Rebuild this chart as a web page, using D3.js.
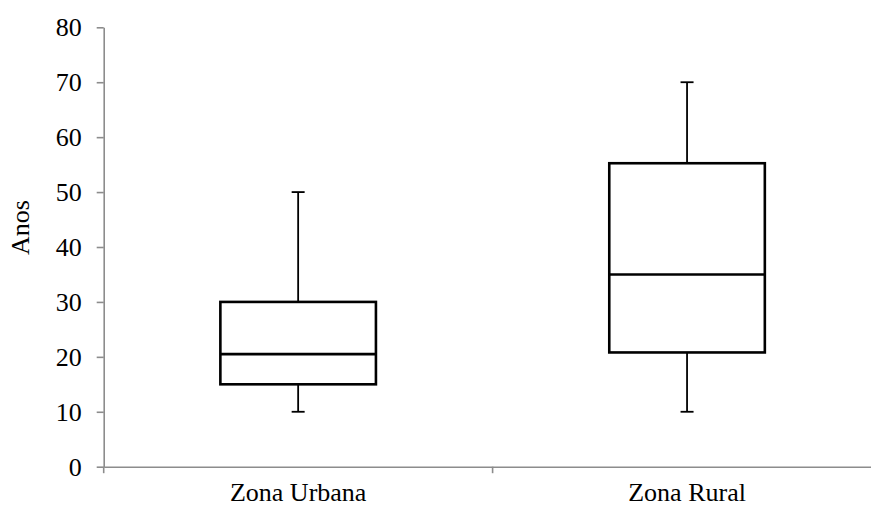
<!DOCTYPE html>
<html>
<head>
<meta charset="utf-8">
<script src="https://cdn.jsdelivr.net/npm/d3@7"></script>
<style>
  html, body { margin: 0; padding: 0; background: #fff; }
  svg { display: block; }
  text { font-family: "Liberation Serif", "Times New Roman", serif; fill: #000; }
</style>
</head>
<body>
<svg id="chart" width="871" height="507"></svg>
<script>
// Data
const categories = ["Zona Urbana", "Zona Rural"];
const whiskerLow = [10, 10];
const q1 = [15, 20.8];
const median = [20.5, 35];
const q3 = [30, 55.25];
const whiskerHigh = [50, 70];
const yTicks = [0, 10, 20, 30, 40, 50, 60, 70, 80];
const yLabel = "Anos";

const svg = d3.select("#chart");
const mLeft = 103.7, mRight = 881.5, mTop = 27.3, mBottom = 466.7;

const x = d3.scaleBand().domain(categories).range([mLeft, mRight]).padding(0);
const y = d3.scaleLinear().domain([0, 80]).range([mBottom, mTop]);
const axisColor = "#8c8c8c";
const fontSize = 26;
const serif = '"Liberation Serif", "Times New Roman", serif';

// Y axis
const yAxis = svg.append("g")
  .attr("transform", `translate(${mLeft},0)`)
  .call(d3.axisLeft(y).tickValues(yTicks).tickSize(7).tickPadding(15).tickSizeOuter(0));
yAxis.attr("font-family", serif).attr("font-size", fontSize);
yAxis.select(".domain").attr("stroke", axisColor).attr("stroke-width", 1.6);
yAxis.selectAll(".tick line").attr("stroke", axisColor).attr("stroke-width", 1.6);
yAxis.selectAll(".tick text")
  .style("font-family", serif)
  .style("font-size", fontSize + "px").attr("fill", "#000");

// X axis
const xAxis = svg.append("g")
  .attr("transform", `translate(0,${mBottom})`)
  .call(d3.axisBottom(x).tickSize(0).tickSizeOuter(0));
xAxis.attr("font-family", serif).attr("font-size", fontSize);
xAxis.select(".domain").attr("stroke", axisColor).attr("stroke-width", 1.6);
xAxis.selectAll(".tick text")
  .attr("y", 34.5).attr("dy", 0)
  .style("font-family", serif)
  .style("font-size", fontSize + "px").attr("fill", "#000");
// category boundary ticks
const bounds = categories.map(c => x(c)).concat([x(categories[categories.length - 1]) + x.bandwidth()]);
xAxis.selectAll(".bound").data(bounds).enter().append("line")
  .attr("x1", d => d).attr("x2", d => d)
  .attr("y1", 0).attr("y2", 6.5)
  .attr("stroke", axisColor).attr("stroke-width", 1.6);

// Y label
svg.append("text")
  .attr("transform", `translate(28.5,227.5) rotate(-90)`)
  .attr("text-anchor", "middle")
  .style("font-family", serif)
  .style("font-size", fontSize + "px")
  .text(yLabel);

// Boxes
const boxW = x.bandwidth() * 0.4;
const capW = 13;
const g = svg.append("g");
categories.forEach((c, i) => {
  const cx = x(c) + x.bandwidth() / 2;
  // whiskers
  g.append("line").attr("x1", cx).attr("x2", cx)
    .attr("y1", y(whiskerHigh[i])).attr("y2", y(q3[i]))
    .attr("stroke", "#000").attr("stroke-width", 1.8);
  g.append("line").attr("x1", cx).attr("x2", cx)
    .attr("y1", y(q1[i])).attr("y2", y(whiskerLow[i]))
    .attr("stroke", "#000").attr("stroke-width", 1.8);
  g.append("line").attr("x1", cx - capW / 2).attr("x2", cx + capW / 2)
    .attr("y1", y(whiskerHigh[i])).attr("y2", y(whiskerHigh[i]))
    .attr("stroke", "#000").attr("stroke-width", 1.8);
  g.append("line").attr("x1", cx - capW / 2).attr("x2", cx + capW / 2)
    .attr("y1", y(whiskerLow[i])).attr("y2", y(whiskerLow[i]))
    .attr("stroke", "#000").attr("stroke-width", 1.8);
  // box
  g.append("rect")
    .attr("x", cx - boxW / 2).attr("width", boxW)
    .attr("y", y(q3[i])).attr("height", y(q1[i]) - y(q3[i]))
    .attr("fill", "#fff").attr("stroke", "#000").attr("stroke-width", 2.6);
  // median
  g.append("line").attr("x1", cx - boxW / 2).attr("x2", cx + boxW / 2)
    .attr("y1", y(median[i])).attr("y2", y(median[i]))
    .attr("stroke", "#000").attr("stroke-width", 2.6);
});
</script>
</body>
</html>
